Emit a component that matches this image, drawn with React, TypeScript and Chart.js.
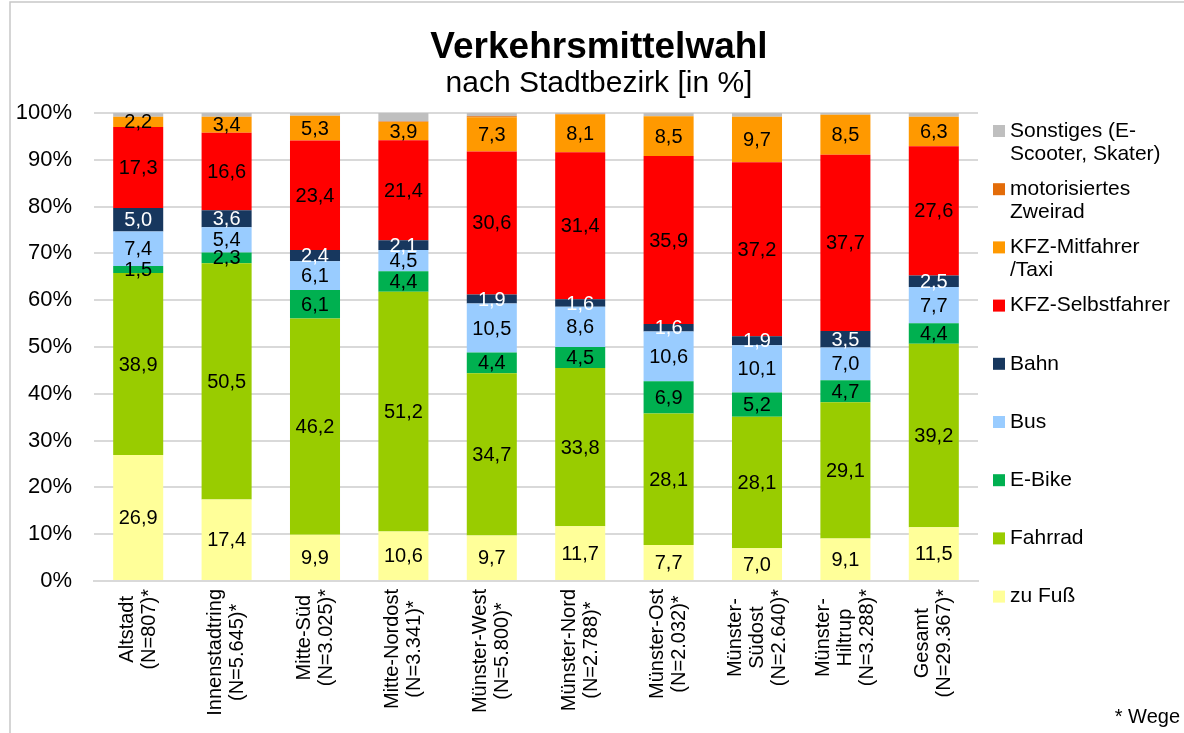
import React, { useEffect, useRef } from 'react';
import { Chart, registerables } from 'chart.js';

Chart.register(...registerables);

const FONT = '"Liberation Sans", Arial, Helvetica, sans-serif';

const titleText = 'Verkehrsmittelwahl';
const subtitleText = 'nach Stadtbezirk [in %]';
const footnoteText = '* Wege';

const categories: string[][] = [
  ['Altstadt', '(N=807)*'],
  ['Innenstadtring', '(N=5.645)*'],
  ['Mitte-Süd', '(N=3.025)*'],
  ['Mitte-Nordost', '(N=3.341)*'],
  ['Münster-West', '(N=5.800)*'],
  ['Münster-Nord', '(N=2.788)*'],
  ['Münster-Ost', '(N=2.032)*'],
  ['Münster-', 'Südost', '(N=2.640)*'],
  ['Münster-', 'Hiltrup', '(N=3.288)*'],
  ['Gesamt', '(N=29.367)*'],
];

const zuFuss = [26.9, 17.4, 9.9, 10.6, 9.7, 11.7, 7.7, 7.0, 9.1, 11.5];
const fahrrad = [38.9, 50.5, 46.2, 51.2, 34.7, 33.8, 28.1, 28.1, 29.1, 39.2];
const eBike = [1.5, 2.3, 6.1, 4.4, 4.4, 4.5, 6.9, 5.2, 4.7, 4.4];
const bus = [7.4, 5.4, 6.1, 4.5, 10.5, 8.6, 10.6, 10.1, 7.0, 7.7];
const bahn = [5.0, 3.6, 2.4, 2.1, 1.9, 1.6, 1.6, 1.9, 3.5, 2.5];
const kfzSelbst = [17.3, 16.6, 23.4, 21.4, 30.6, 31.4, 35.9, 37.2, 37.7, 27.6];
const kfzMit = [2.2, 3.4, 5.3, 3.9, 7.3, 8.1, 8.5, 9.7, 8.5, 6.3];
const zweirad = [0.0, 0.0, 0.0, 0.1, 0.2, 0.1, 0.0, 0.0, 0.0, 0.0];
const sonstiges = [0.8, 0.8, 0.6, 1.9, 0.7, 0.8, 0.7, 0.8, 0.8, 0.8];

const yTicks = [0, 10, 20, 30, 40, 50, 60, 70, 80, 90, 100];

const seriesNames = [
  'zu Fuß',
  'Fahrrad',
  'E-Bike',
  'Bus',
  'Bahn',
  'KFZ-Selbstfahrer',
  'KFZ-Mitfahrer /Taxi',
  'motorisiertes Zweirad',
  'Sonstiges (E-Scooter, Skater)',
];
const legendLines: string[][] = [
  ['zu Fuß'],
  ['Fahrrad'],
  ['E-Bike'],
  ['Bus'],
  ['Bahn'],
  ['KFZ-Selbstfahrer'],
  ['KFZ-Mitfahrer', '/Taxi'],
  ['motorisiertes', 'Zweirad'],
  ['Sonstiges (E-', 'Scooter, Skater)'],
];
const seriesValues = [zuFuss, fahrrad, eBike, bus, bahn, kfzSelbst, kfzMit, zweirad, sonstiges];
const seriesColors = ['#FFFF99', '#99CC00', '#00B050', '#99CCFF', '#17375E', '#FF0000', '#FF9900', '#E36C09', '#BFBFBF'];
const showLabels = [true, true, true, true, true, true, true, false, false];
const labelColors = ['#000', '#000', '#000', '#000', '#FFF', '#000', '#000', '#000', '#000'];

const fmt = (v: number) => v.toFixed(1).replace('.', ',');

const valueLabelPlugin = {
  id: 'valueLabels',
  afterDatasetsDraw(chart: any) {
    const ctx = chart.ctx;
    ctx.save();
    ctx.font = `20px ${FONT}`;
    ctx.textAlign = 'center';
    ctx.textBaseline = 'middle';
    chart.data.datasets.forEach((ds: any, di: number) => {
      if (!showLabels[di]) return;
      const meta = chart.getDatasetMeta(di);
      meta.data.forEach((el: any, i: number) => {
        const v = ds.data[i];
        if (!v) return;
        ctx.fillStyle = labelColors[di];
        ctx.fillText(fmt(v), el.x, (el.y + el.base) / 2 + 1);
      });
    });
    ctx.restore();
  },
};

const decorPlugin = {
  id: 'decor',
  beforeDraw(chart: any) {
    const ctx = chart.ctx;
    ctx.save();
    ctx.fillStyle = '#FFFFFF';
    ctx.fillRect(0, 0, chart.width, chart.height);
    ctx.strokeStyle = '#C8C8C8';
    ctx.lineWidth = 1.5;
    ctx.strokeRect(10, 2, chart.width + 20, chart.height + 20);
    ctx.restore();
  },
  afterDraw(chart: any) {
    const ctx = chart.ctx;
    ctx.save();
    // title & subtitle
    ctx.fillStyle = '#000';
    ctx.textAlign = 'center';
    ctx.textBaseline = 'middle';
    ctx.font = `bold 37px ${FONT}`;
    ctx.fillText(titleText, 599, 48);
    ctx.font = `30px ${FONT}`;
    ctx.fillText(subtitleText, 599, 84);

    // x category labels (rotated, centred on bar)
    const xs = chart.scales.x;
    ctx.font = `20px ${FONT}`;
    const lineH = 22;
    const yTop = 589;
    categories.forEach((lines, i) => {
      const x = xs.getPixelForValue(i);
      const maxW = Math.max(...lines.map((l) => ctx.measureText(l).width));
      ctx.save();
      ctx.translate(x, yTop);
      ctx.rotate(-Math.PI / 2);
      ctx.textAlign = 'center';
      ctx.textBaseline = 'middle';
      lines.forEach((line, j) => {
        ctx.fillText(line, -maxW / 2, (j - (lines.length - 1) / 2) * lineH);
      });
      ctx.restore();
    });

    // legend
    ctx.font = `21px ${FONT}`;
    ctx.textBaseline = 'middle';
    ctx.textAlign = 'left';
    const n = seriesNames.length;
    const top = 131;
    const step = 58.2;
    for (let k = 0; k < n; k++) {
      const di = n - 1 - k;
      const y = top + k * step;
      ctx.fillStyle = seriesColors[di];
      ctx.fillRect(993, y - 6, 12, 12);
      ctx.fillStyle = '#000';
      legendLines[di].forEach((line, li) => {
        ctx.fillText(line, 1010, y + li * 23);
      });
    }
    ctx.font = `20px ${FONT}`;
    ctx.textAlign = 'right';
    ctx.fillText(footnoteText, 1180, 717);
    ctx.restore();
  },
};

export default function App() {
  const ref = useRef<HTMLCanvasElement | null>(null);
  useEffect(() => {
    if (!ref.current) return;
    const chart = new Chart(ref.current, {
      type: 'bar',
      data: {
        labels: categories,
        datasets: seriesValues.map((vals, i) => ({
          label: seriesNames[i],
          data: vals,
          backgroundColor: seriesColors[i],
          borderWidth: 0,
          barPercentage: 0.566,
          categoryPercentage: 1.0,
        })),
      },
      options: {
        animation: false,
        responsive: false,
        devicePixelRatio: 1,
        layout: { padding: { left: 10, right: 206, top: 113, bottom: 0 } },
        plugins: {
          legend: { display: false },
          tooltip: { enabled: false },
          title: { display: false },
        },
        scales: {
          x: {
            stacked: true,
            grid: { display: false, drawTicks: false },
            border: { display: true, color: '#D9D9D9', width: 2 },
            ticks: { display: false },
            afterFit: (scale: any) => {
              scale.height = 152;
            },
          },
          y: {
            stacked: true,
            min: 0,
            max: 100,
            afterBuildTicks: (scale: any) => {
              scale.ticks = yTicks.map((v) => ({ value: v }));
            },
            grid: { color: '#D9D9D9', lineWidth: 2, drawTicks: false },
            border: { display: false },
            ticks: {
              padding: 22,
              color: '#000',
              font: { family: FONT, size: 22 },
              callback: (v: any) => `${v}%`,
            },
            afterFit: (scale: any) => {
              scale.width = 84;
            },
          },
        },
      },
      plugins: [decorPlugin, valueLabelPlugin],
    });
    return () => chart.destroy();
  }, []);
  return (
    <div style={{ position: 'fixed', left: 0, top: 0, width: 1184, height: 733, background: '#fff' }}>
      <canvas ref={ref} width={1184} height={733} style={{ display: 'block', width: 1184, height: 733 }} />
    </div>
  );
}
